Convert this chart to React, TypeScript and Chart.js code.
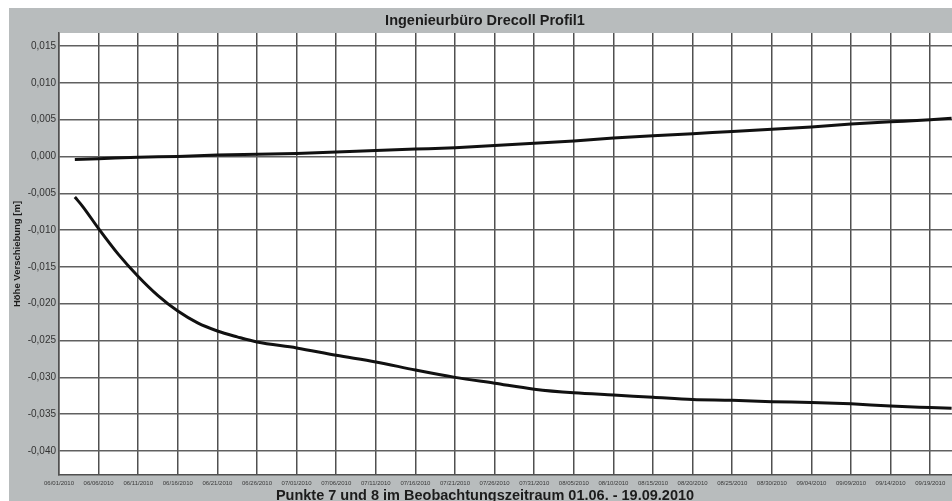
import React, { useEffect, useRef } from 'react';
import { Chart, registerables } from 'chart.js';

Chart.register(...registerables);

const chartTitle = 'Ingenieurbüro Drecoll Profil1';
const xAxisTitle = 'Punkte 7 und 8 im Beobachtungszeitraum 01.06. - 19.09.2010';
const yAxisTitle = 'Höhe Verschiebung [m]';

// x axis: days since 06/01/2010, one tick label every 5 days
const xTickLabels = [
  '06/01/2010', '06/06/2010', '06/11/2010', '06/16/2010', '06/21/2010', '06/26/2010',
  '07/01/2010', '07/06/2010', '07/11/2010', '07/16/2010', '07/21/2010', '07/26/2010',
  '07/31/2010', '08/05/2010', '08/10/2010', '08/15/2010', '08/20/2010', '08/25/2010',
  '08/30/2010', '09/04/2010', '09/09/2010', '09/14/2010', '09/19/2010',
];

// Upper series (Punkt 7)
const upperDays = [2, 5, 10, 15, 20, 25, 30, 35, 40, 45, 50, 55, 60, 65, 70, 75, 80, 85, 90, 95, 100, 105, 110, 112.7];
const upperValues = [
  -0.0004, -0.0003, -0.0001, 0.0, 0.0002, 0.0003, 0.0004, 0.0006, 0.0008, 0.001, 0.0012, 0.0015,
  0.0018, 0.0021, 0.0025, 0.0028, 0.0031, 0.0034, 0.0037, 0.004, 0.0044, 0.0047, 0.005, 0.0052,
];

// Lower series (Punkt 8)
const lowerDays = [2, 3, 5, 7.5, 10, 12.5, 15, 17.5, 20, 22.5, 25, 30, 35, 40, 45, 50, 55, 60, 65, 70, 75, 80, 85, 90, 95, 100, 105, 110, 112.7];
const lowerValues = [
  -0.0055, -0.0068, -0.0098, -0.0133, -0.0163, -0.0189, -0.021, -0.0226, -0.0237, -0.0245, -0.0252,
  -0.026, -0.027, -0.0279, -0.029, -0.03, -0.0308, -0.0316, -0.0321, -0.0324, -0.0327, -0.033,
  -0.0331, -0.0333, -0.0334, -0.0336, -0.0339, -0.0341, -0.0342,
];

const X_MIN = 0;
const X_MAX = 112.75;
const Y_MIN = -0.04326;
const Y_MAX = 0.01677;

const FONT = '"Liberation Sans", Arial, sans-serif';

const framePlugin = {
  id: 'frame',
  beforeDraw(chart: any) {
    const { ctx, chartArea, width, height } = chart;
    ctx.save();
    ctx.fillStyle = '#ffffff';
    ctx.fillRect(0, 0, width, height);
    ctx.fillStyle = '#b8bcbd';
    ctx.fillRect(1, 0, width - 1, height);
    ctx.fillStyle = '#ffffff';
    ctx.fillRect(chartArea.left, chartArea.top, chartArea.right - chartArea.left, chartArea.bottom - chartArea.top);
    ctx.restore();
  },
  afterDraw(chart: any) {
    const { ctx } = chart;
    ctx.save();
    ctx.fillStyle = '#1c1c1c';
    ctx.textAlign = 'center';
    ctx.textBaseline = 'middle';
    ctx.font = `bold 14.5px ${FONT}`;
    ctx.fillText(chartTitle, 477, 13);
    ctx.textBaseline = 'alphabetic';
    ctx.font = `bold 14.5px ${FONT}`;
    ctx.fillText(xAxisTitle, 477, 491.5);
    ctx.restore();
  },
};

export default function App() {
  const canvasRef = useRef<HTMLCanvasElement | null>(null);

  useEffect(() => {
    const canvas = canvasRef.current;
    if (!canvas) return;
    const chart = new Chart(canvas, {
      type: 'line',
      data: {
        datasets: [
          {
            label: 'Punkt 7',
            data: upperDays.map((d, i) => ({ x: d, y: upperValues[i] })),
            borderColor: '#111111',
            borderWidth: 3,
            pointRadius: 0,
            cubicInterpolationMode: 'monotone',
          },
          {
            label: 'Punkt 8',
            data: lowerDays.map((d, i) => ({ x: d, y: lowerValues[i] })),
            borderColor: '#111111',
            borderWidth: 3,
            pointRadius: 0,
            cubicInterpolationMode: 'monotone',
          },
        ],
      },
      options: {
        responsive: false,
        animation: false,
        layout: { padding: { top: 25, left: 0, right: 0, bottom: 0 } },
        plugins: {
          legend: { display: false },
          title: { display: false },
          tooltip: { enabled: false },
        },
        scales: {
          x: {
            type: 'linear',
            min: X_MIN,
            max: X_MAX,
            afterFit: (scale: any) => {
              scale.height = 26;
            },
            grid: { color: '#505050', lineWidth: 1.5, drawTicks: false },
            border: { color: '#505050', width: 1.5 },
            ticks: {
              stepSize: 5,
              includeBounds: false,
              autoSkip: false,
              maxRotation: 0,
              minRotation: 0,
              padding: 4.5,
              color: '#3a3a3a',
              font: { size: 6, family: FONT },
              callback: (v: any) => {
                const idx = Math.round(Number(v) / 5);
                return xTickLabels[idx] ?? '';
              },
            },
          },
          y: {
            type: 'linear',
            min: Y_MIN,
            max: Y_MAX,
            afterFit: (scale: any) => {
              scale.width = 51;
            },
            grid: { color: '#606060', lineWidth: 1.5, drawTicks: false },
            border: { color: '#505050', width: 1.5 },
            title: {
              display: true,
              text: yAxisTitle,
              color: '#1c1c1c',
              font: { size: 9.5, weight: 'bold', family: FONT },
              padding: { top: 4, bottom: 0 },
            },
            ticks: {
              stepSize: 0.005,
              includeBounds: false,
              padding: 3,
              color: '#333333',
              font: { size: 10, family: FONT },
              callback: (v: any) => {
                const n = Number(v);
                const s = (Math.abs(n) < 1e-9 ? 0 : n).toFixed(3);
                return s.replace('.', ',');
              },
            },
          },
        },
      },
      plugins: [framePlugin],
    } as any);
    return () => chart.destroy();
  }, []);

  return (
    <div style={{ position: 'fixed', left: 8, top: 8, width: 944, height: 493 }}>
      <canvas ref={canvasRef} width={944} height={493} style={{ display: 'block' }} />
    </div>
  );
}
